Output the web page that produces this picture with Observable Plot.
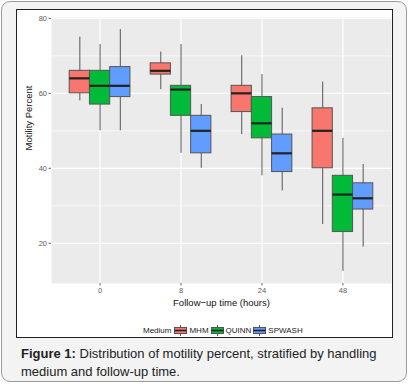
<!DOCTYPE html>
<html>
<head>
<meta charset="utf-8">
<script src="https://cdn.jsdelivr.net/npm/d3@7"></script>
<script src="https://cdn.jsdelivr.net/npm/@observablehq/plot@0.6"></script>
<style>
  html, body { margin: 0; padding: 0; background: #ffffff; }
  body { width: 409px; height: 384px; position: relative; overflow: hidden; font-family: "Liberation Sans", Arial, sans-serif; }
  #card { position: absolute; left: 1px; top: 1px; width: 406px; height: 381px; border: 1.5px solid #9a9a9a; border-radius: 9px; background: #f3f3f3; box-sizing: border-box; }
  #frame { position: absolute; left: 16px; top: 9px; width: 377px; height: 329px; border: 1px solid #222; background: #fff; box-sizing: border-box; }
  #chart { position: absolute; left: 1px; top: 0px; }
  #legend { position: absolute; left: 126px; top: 314px; height: 12px; display: flex; align-items: center; font-size: 8px; color: #222; white-space: nowrap; }
  #legend .title { margin-right: 3px; }
  #legend .item { display: flex; align-items: center; margin-right: 2px; }
  #legend svg { margin-right: 2px; }
  #caption { position: absolute; left: 21px; top: 345px; width: 385px; font-size: 13px; line-height: 17.5px; color: #222; white-space: nowrap; }
  #caption div { height: 17.5px; }
</style>
</head>
<body>
<div id="card"></div>
<div id="frame">
  <div id="chart"></div>
  <div id="legend"></div>
</div>
<div id="caption">
  <div><b>Figure 1:</b> <span>Distribution of motility percent, stratified by handling</span></div>
  <div><span>medium and follow-up time.</span></div>
</div>
<script>
// ---- data ----
const times = ["0", "8", "24", "48"];
const media = ["MHM", "QUINN", "SPWASH"];
const colors = ["#F8766D", "#00BA38", "#619CFF"];
const yTicks = [20, 40, 60, 80];
const yMinor = [30, 50, 70];

// per medium, values ordered by follow-up time
const MHM_lower  = [58, 61, 49, 25];
const MHM_q1     = [60, 65, 55, 40];
const MHM_median = [64, 66, 60, 50];
const MHM_q3     = [66, 68, 62, 56];
const MHM_upper  = [75, 71, 70, 63];

const QUINN_lower  = [50, 44, 38, 12.5];
const QUINN_q1     = [57, 54, 48, 23];
const QUINN_median = [62, 61, 52, 33];
const QUINN_q3     = [66, 62, 59, 38];
const QUINN_upper  = [73, 73, 65, 48];

const SPWASH_lower  = [50, 40, 34, 19];
const SPWASH_q1     = [59, 44, 39, 29];
const SPWASH_median = [62, 50, 44, 32];
const SPWASH_q3     = [67, 54, 49, 36];
const SPWASH_upper  = [77, 57, 56, 41];

const stats = {
  MHM:    [MHM_lower, MHM_q1, MHM_median, MHM_q3, MHM_upper],
  QUINN:  [QUINN_lower, QUINN_q1, QUINN_median, QUINN_q3, QUINN_upper],
  SPWASH: [SPWASH_lower, SPWASH_q1, SPWASH_median, SPWASH_q3, SPWASH_upper]
};

// build table (ggplot-style dodge: 0.75 of category width, 3 groups)
const dodge = 0.75 / media.length;
const rows = [];
times.forEach((t, gi) => {
  media.forEach((m, mi) => {
    const [lo, q1, med, q3, hi] = stats[m].map(a => a[gi]);
    const x1 = (gi + 1) - 0.375 + mi * dodge;
    rows.push({time: t, medium: m, x1, x2: x1 + dodge, xc: x1 + dodge / 2, lo, q1, med, q3, hi});
  });
});

const allVals = rows.flatMap(r => [r.lo, r.hi]);
const ymin = d3.min(allVals), ymax = d3.max(allVals);
const pad = (ymax - ymin) * 0.05;

const plot = Plot.plot({
  width: 374,
  height: 300,
  marginLeft: 33,
  marginRight: 1,
  marginTop: 7,
  marginBottom: 27,
  style: {fontFamily: "'Liberation Sans', Arial, sans-serif", background: "transparent"},
  x: {type: "linear", domain: [0.4, times.length + 0.6], axis: null},
  y: {domain: [ymin - pad, ymax + pad], axis: null},
  color: {domain: media, range: colors},
  marks: [
    Plot.frame({fill: "#EBEBEB", stroke: null}),
    Plot.ruleY(yMinor, {stroke: "#ffffff", strokeWidth: 0.6}),
    Plot.ruleY(yTicks, {stroke: "#ffffff", strokeWidth: 1.2}),
    Plot.ruleX(times.map((t, i) => i + 1), {stroke: "#ffffff", strokeWidth: 1.2}),
    Plot.axisY({ticks: yTicks, tickSize: 2.5, tickPadding: 2, fontSize: 7.5, color: "#5a5a5a", stroke: "#666", label: null}),
    Plot.axisX({ticks: times.map((t, i) => i + 1), tickFormat: d => times[d - 1], tickSize: 2.5, tickPadding: 2, fontSize: 7.5, color: "#5a5a5a", stroke: "#666", label: null}),
    Plot.ruleX(rows, {x: "xc", y1: "lo", y2: "hi", stroke: "#555", strokeWidth: 1}),
    Plot.rect(rows, {x1: "x1", x2: "x2", y1: "q1", y2: "q3", fill: "medium", stroke: "#555", strokeWidth: 1}),
    Plot.ruleY(rows, {y: "med", x1: "x1", x2: "x2", stroke: "#222", strokeWidth: 2.2}),
    Plot.text(["Motility Percent"], {frameAnchor: "left", rotate: -90, dx: -23, fontSize: 9.5, fill: "#111"}),
    Plot.text(["Follow\u2212up time (hours)"], {frameAnchor: "bottom", lineAnchor: "middle", dy: 19.5, fontSize: 9.5, fill: "#111"})
  ]
});
document.getElementById("chart").appendChild(plot);

// legend
const legend = document.getElementById("legend");
const title = document.createElement("span");
title.className = "title";
title.textContent = "Medium";
legend.appendChild(title);
media.forEach((m, i) => {
  const item = document.createElement("span");
  item.className = "item";
  item.innerHTML =
    `<svg width="13" height="11" viewBox="0 0 13 11">` +
    `<line x1="6.5" y1="0" x2="6.5" y2="11" stroke="#555" stroke-width="1"/>` +
    `<rect x="0.5" y="2.5" width="12" height="6" fill="${colors[i]}" stroke="#555" stroke-width="1"/>` +
    `<line x1="0.5" y1="5.5" x2="12.5" y2="5.5" stroke="#222" stroke-width="1.6"/>` +
    `</svg><span>${m}</span>`;
  legend.appendChild(item);
});
</script>
</body>
</html>
